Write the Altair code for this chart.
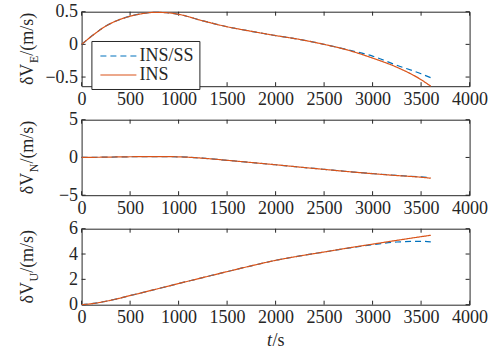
import altair as alt
import pandas as pd

# ---------------- data ----------------
t = [0, 125, 250, 375, 500, 625, 750, 875, 1000, 1250, 1500, 1750, 2000,
     2250, 2500, 2750, 3000, 3250, 3500, 3600]

vE_ins = [0, 0.15, 0.28, 0.37, 0.43, 0.47, 0.49, 0.485, 0.46, 0.36, 0.27, 0.20,
          0.135, 0.075, 0.0, -0.09, -0.21, -0.35, -0.54, -0.64]
vE_ss = [0, 0.15, 0.28, 0.37, 0.43, 0.47, 0.49, 0.485, 0.46, 0.36, 0.27, 0.20,
         0.135, 0.075, 0.0, -0.085, -0.18, -0.32, -0.45, -0.51]

vN_ins = [0, 0.02, 0.04, 0.07, 0.09, 0.11, 0.12, 0.11, 0.08, -0.10, -0.38, -0.67,
          -0.97, -1.28, -1.58, -1.88, -2.15, -2.40, -2.62, -2.75]
vN_ss = [0, 0.02, 0.04, 0.07, 0.09, 0.11, 0.12, 0.11, 0.08, -0.10, -0.38, -0.67,
         -0.97, -1.28, -1.58, -1.88, -2.14, -2.38, -2.58, -2.68]

vU_ins = [0, 0.10, 0.27, 0.48, 0.72, 0.95, 1.19, 1.43, 1.67, 2.14, 2.61, 3.07,
          3.50, 3.85, 4.16, 4.48, 4.78, 5.08, 5.37, 5.48]
vU_ss = [0, 0.10, 0.27, 0.48, 0.72, 0.95, 1.19, 1.43, 1.67, 2.14, 2.61, 3.07,
         3.50, 3.85, 4.16, 4.47, 4.73, 4.95, 5.00, 4.96]

series_names = ["INS/SS", "INS"]
x_ticks = [0, 500, 1000, 1500, 2000, 2500, 3000, 3500, 4000]
yE_ticks = [-0.5, 0, 0.5]
yN_ticks = [-5, 0, 5]
yU_ticks = [0, 2, 4, 6]

# ---------------- style ----------------
BLUE = "#0072BD"
RED = "#D95319"
AX = "#262626"
FONT = "'Liberation Serif', 'Times New Roman', Times, serif"
FS = 18
SUB_FS = 12
W = 388
TICK = 4
LW = 1.2

xscale = alt.Scale(domain=[0, 4000], nice=False, zero=False)
xaxis = alt.Axis(values=x_ticks, title=None, labelPadding=4, format="d",
                 labelOverlap=False, labelFlush=False)


def panel(ins, ss, ydom, yticks, sub, h, legend):
    yscale = alt.Scale(domain=ydom, nice=False, zero=False)
    yaxis = alt.Axis(values=yticks, title=None, labelPadding=4, format="~g",
                     labelOverlap=False, labelFlush=False)
    color_leg = None
    if legend:
        color_leg = alt.Legend(
            title=None, orient="none", legendX=9.8, legendY=29.3,
            symbolType="M-2,0H2", symbolSize=18 * 18, symbolStrokeWidth=LW,
            symbolOffset=12,
            labelFont=FONT, labelFontSize=FS, labelColor=AX, labelOffset=11,
            strokeColor=AX, fillColor="white", padding=5, rowPadding=0,
            cornerRadius=0,
        )
    col = alt.Color("s:N", scale=alt.Scale(domain=series_names, range=[BLUE, RED]),
                    legend=color_leg)
    dash = alt.StrokeDash("s:N", scale=alt.Scale(domain=series_names,
                                                 range=[[6, 4], [1, 0]]),
                          legend=color_leg)

    df_ss = pd.DataFrame({"t": t, "v": ss, "s": series_names[0]})
    df_ins = pd.DataFrame({"t": t, "v": ins, "s": series_names[1]})

    def line(df):
        return alt.Chart(df).mark_line(strokeWidth=LW, interpolate="monotone").encode(
            x=alt.X("t:Q", scale=xscale, axis=xaxis),
            y=alt.Y("v:Q", scale=yscale, axis=yaxis),
            color=col, strokeDash=dash,
        )

    xt = pd.DataFrame({"v": x_ticks})
    yt = pd.DataFrame({"v": yticks})
    tick_b = alt.Chart(xt).mark_rule(color=AX, strokeWidth=1).encode(
        x=alt.X("v:Q", scale=xscale, axis=xaxis), y=alt.value(h), y2=alt.value(h - TICK))
    tick_t = alt.Chart(xt).mark_rule(color=AX, strokeWidth=1).encode(
        x=alt.X("v:Q", scale=xscale, axis=xaxis), y=alt.value(0), y2=alt.value(TICK))
    tick_l = alt.Chart(yt).mark_rule(color=AX, strokeWidth=1).encode(
        y=alt.Y("v:Q", scale=yscale, axis=yaxis), x=alt.value(0), x2=alt.value(TICK))
    tick_r = alt.Chart(yt).mark_rule(color=AX, strokeWidth=1).encode(
        y=alt.Y("v:Q", scale=yscale, axis=yaxis), x=alt.value(W), x2=alt.value(W - TICK))

    # y title: "δV" + subscript + "/(m/s)", rotated
    main_len = 1.222 * FS
    sub_len = (0.611 if sub == "E" else 0.722) * SUB_FS
    rest_len = 2.389 * FS
    total = main_len + sub_len + rest_len
    y0 = h / 2 + total / 2

    def ytxt(s, x, y, size):
        return alt.Chart(pd.DataFrame({"s": [s]})).mark_text(
            angle=270, align="left", baseline="alphabetic", font=FONT,
            fontSize=size, color=AX).encode(text="s:N", x=alt.value(x), y=alt.value(y))

    t1 = ytxt("δV", -48.5, y0, FS)
    t2 = ytxt(sub, -44.0, y0 - main_len, SUB_FS)
    t3 = ytxt("/(m/s)", -48.5, y0 - main_len - sub_len, FS)

    layers = [tick_b, tick_t, tick_l, tick_r, line(df_ss), line(df_ins), t1, t2, t3]
    return alt.layer(*layers).properties(width=W, height=h)


p1 = panel(vE_ins, vE_ss, [-0.64, 0.5], yE_ticks, "E", 74.5, True)
p2 = panel(vN_ins, vN_ss, [-5, 5], yN_ticks, "N", 75.5, False)
h3 = 76
p3_base = panel(vU_ins, vU_ss, [0, 6], yU_ticks, "U", h3, False)

# x title "t/s" with italic t
tw = 0.278 * FS
sw = 0.667 * FS
x0 = W / 2 - (tw + sw) / 2
xt1 = alt.Chart(pd.DataFrame({"s": ["t"]})).mark_text(
    align="left", baseline="alphabetic", font=FONT, fontSize=FS, fontStyle="italic",
    color=AX).encode(text="s:N", x=alt.value(x0), y=alt.value(h3 + 41))
xt2 = alt.Chart(pd.DataFrame({"s": ["/s"]})).mark_text(
    align="left", baseline="alphabetic", font=FONT, fontSize=FS,
    color=AX).encode(text="s:N", x=alt.value(x0 + tw + 0.5), y=alt.value(h3 + 41))
p3 = alt.layer(p3_base, xt1, xt2)

chart = alt.vconcat(p1, p2, p3, spacing=33, bounds="flush").resolve_scale(
    x="independent", y="independent", color="independent", strokeDash="independent"
).properties(
    padding={"left": 17.6, "top": 1.7, "right": 0, "bottom": 0},
    background="white",
).configure_view(
    stroke=AX, strokeWidth=1
).configure_axis(
    labelFont=FONT, labelFontSize=FS, labelColor=AX,
    ticks=False, tickSize=0, domain=False, grid=False,
)

chart.save("out.html", embed_options={"renderer": "svg", "actions": False})
